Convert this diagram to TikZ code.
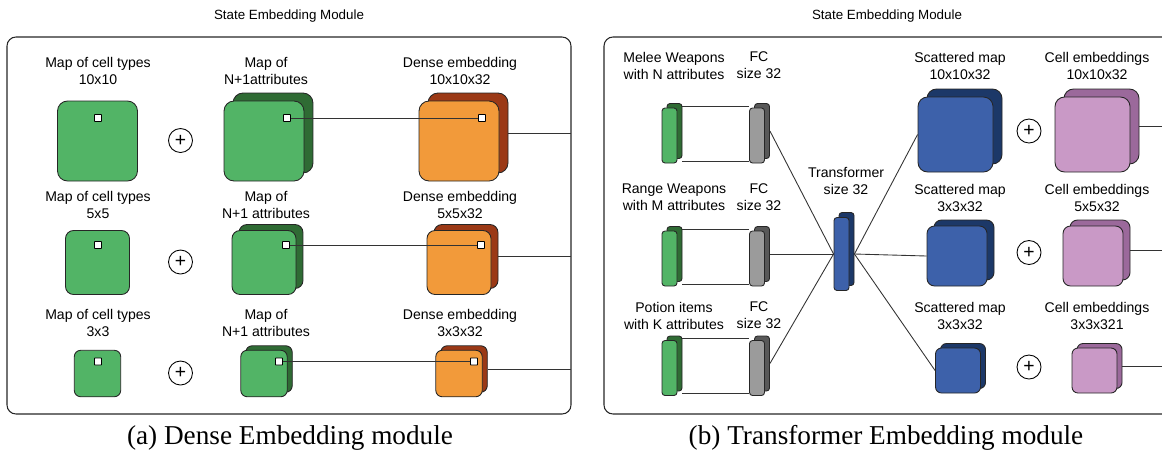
\documentclass[tikz,border=0pt]{standalone}
\usepackage{fontspec}
\setmainfont{Liberation Serif}
\setsansfont{Liberation Sans}
\usetikzlibrary{positioning}
\definecolor{MapGreen}{RGB}{82,180,102}
\definecolor{MapGreenDark}{RGB}{47,107,52}
\definecolor{EmbOrange}{RGB}{242,154,58}
\definecolor{EmbRust}{RGB}{155,57,22}
\definecolor{ScatBlue}{RGB}{61,97,170}
\definecolor{ScatNavy}{RGB}{28,56,104}
\definecolor{CellPink}{RGB}{201,153,198}
\definecolor{CellPlum}{RGB}{155,105,155}
\definecolor{FCGray}{RGB}{155,155,155}
\definecolor{FCDark}{RGB}{88,88,88}

\begin{document}
\begin{tikzpicture}[x=0.02cm, y=-0.02cm,
    lbl/.style={font=\sffamily\fontsize{8}{9.7}\selectfont, align=center},
    ttl/.style={font=\sffamily\fontsize{7.6}{9}\selectfont},
    captxt/.style={font=\fontsize{15.5}{18}\selectfont},
    panel/.style={draw=black!85, line width=0.6pt, rounded corners=0.18cm},
    cell/.style={draw=black!85, line width=0.5pt, inner sep=0pt},
    bar/.style={cell, minimum width=0.3cm, minimum height=1.1cm, rounded corners=0.06cm},
    probe/.style={rectangle, draw=black, fill=white, line width=0.45pt, minimum size=0.14cm,
                  inner sep=0pt, rounded corners=0.01cm},
    addop/.style={circle, draw=black, line width=0.5pt, minimum size=0.48cm,
                  inner sep=0pt, font=\sffamily\fontsize{11}{11}\selectfont},
    link/.style={black!80, line width=0.5pt}
  ]
  \useasboundingbox (0,0) rectangle (1162,454);
  \clip (0,0) rectangle (1162,454);

  % (a) Dense embedding module
  \node[ttl] (titleA) at (289,16) {State Embedding Module};
  \draw[panel] (7,37) rectangle (571,414);
  \coordinate (edgeA) at (571,0);

  \node[lbl] (ctA1) at (98,70.5) {Map of cell types\\10x10};
  \node[lbl] (atA1) at (266,70.5) {Map of\\N+1attributes};
  \node[lbl] (deA1) at (460,70.5) {Dense embedding\\10x10x32};
  \node[lbl] (ctA2) at (98,205) {Map of cell types\\5x5};
  \node[lbl] (atA2) at (266,205) {Map of\\N+1 attributes};
  \node[lbl] (deA2) at (460,205) {Dense embedding\\5x5x32};
  \node[lbl] (ctA3) at (98,322.5) {Map of cell types\\3x3};
  \node[lbl] (atA3) at (266,322.5) {Map of\\N+1 attributes};
  \node[lbl] (deA3) at (460,322.5) {Dense embedding\\3x3x32};

  \foreach \r/\yc/\sz/\dx/\dy/\rc/\mx/\my in {1/141/1.6/9/8/0.2/23/23,
      2/262.5/1.28/7/6/0.16/22/17.5, 3/373.5/0.93/5/4.5/0.13/15/12}{
    % map of cell types
    \node[cell, fill=MapGreen, minimum size=\sz cm, rounded corners=\rc cm] (ct\r) at (97.5,\yc) {};
    \node[addop] (addA\r) at (180.5,\yc-0.5) {+};
    % map of attributes
    \node[cell, fill=MapGreenDark, minimum size=\sz cm, rounded corners=\rc cm] (atb\r) at (264+\dx,\yc-\dy) {};
    \node[cell, fill=MapGreen, minimum size=\sz cm, rounded corners=\rc cm] (atf\r) at (264,\yc) {};
    % dense embedding
    \node[cell, fill=EmbRust, minimum size=\sz cm, rounded corners=\rc cm] (deb\r) at (459+\dx,\yc-\dy) {};
    \node[cell, fill=EmbOrange, minimum size=\sz cm, rounded corners=\rc cm] (def\r) at (459,\yc) {};
    % probes
    \node[probe] (pc\r) at (98,\yc-\my) {};
    \node[probe] (pa\r) at (264+\mx,\yc-\my) {};
    \node[probe] (pd\r) at (459+\mx,\yc-\my) {};
    \draw[link] (pa\r) -- (pd\r);
    \draw[link] (deb\r.east) -- (deb\r.east -| edgeA);
  }

  \node[captxt] (captA) at (290,438) {(a) Dense Embedding module};

  % (b) Transformer embedding module
  \node[ttl] (titleB) at (887,16) {State Embedding Module};
  \draw[panel] (604,37) rectangle (1180,414);
  \coordinate (edgeB) at (1180,0);

  \node[lbl] (inB1) at (674,65.5) {Melee Weapons\\with N attributes};
  \node[lbl] (fcB1) at (759,65.5) {FC\\size 32};
  \node[lbl] (inB2) at (674,197.5) {Range Weapons\\with M attributes};
  \node[lbl] (fcB2) at (759,197.5) {FC\\size 32};
  \node[lbl] (inB3) at (674,315.5) {Potion items\\with K attributes};
  \node[lbl] (fcB3) at (759,315.5) {FC\\size 32};
  \node[lbl] (trB) at (846,180.5) {Transformer\\size 32};
  \node[lbl] (smB1) at (960,65.5) {Scattered map\\10x10x32};
  \node[lbl] (ceB1) at (1097,65.5) {Cell embeddings\\10x10x32};
  \node[lbl] (smB2) at (960,197.5) {Scattered map\\3x3x32};
  \node[lbl] (ceB2) at (1097,197.5) {Cell embeddings\\5x5x32};
  \node[lbl] (smB3) at (960,315.5) {Scattered map\\3x3x32};
  \node[lbl] (ceB3) at (1097,315.5) {Cell embeddings\\3x3x321};

  % transformer
  \node[bar, fill=ScatNavy, minimum height=1.46cm] (tb) at (846.5,249) {};
  \node[bar, fill=ScatBlue, minimum height=1.46cm] (tf) at (841.5,254) {};
  \coordinate (tin) at (tf.west);
  \coordinate (tout) at (tf.west -| tb.east);

  % item inputs and FC layers
  \foreach \r/\yc in {1/135.5, 2/258.5, 3/368}{
    \node[bar, fill=MapGreenDark] (gb\r) at (674.5,\yc-4.5) {};
    \node[bar, fill=MapGreen] (gf\r) at (669.5,\yc) {};
    \node[bar, fill=FCDark] (fb\r) at (762,\yc-4.5) {};
    \node[bar, fill=FCGray] (ff\r) at (757,\yc) {};
    \coordinate (tl\r) at ([yshift=-0.06cm]gb\r.north east);
    \coordinate (bl\r) at ([yshift=-0.04cm]gb\r.south east);
    \draw[link] (tl\r) -- (tl\r -| ff\r.west);
    \draw[link] (bl\r) -- (bl\r -| ff\r.west);
    \draw[link] (fb\r.east) -- (tin);
  }

  % scattered maps and cell embeddings
  \foreach \r/\yc/\sz/\dx/\dy/\rc/\sx/\cx in {1/134.5/1.5/9/8/0.19/955.5/1092.5,
      2/256/1.2/7/6/0.15/957/1093, 3/370.5/0.9/5/4.5/0.12/958/1094.5}{
    \node[cell, fill=ScatNavy, minimum size=\sz cm, rounded corners=\rc cm] (sb\r) at (\sx+\dx,\yc-\dy) {};
    \node[cell, fill=ScatBlue, minimum size=\sz cm, rounded corners=\rc cm] (sf\r) at (\sx,\yc) {};
    \node[addop] (addB\r) at (1029,\yc-3.5) {+};
    \node[cell, fill=CellPlum, minimum size=\sz cm, rounded corners=\rc cm] (eb\r) at (\cx+\dx,\yc-\dy) {};
    \node[cell, fill=CellPink, minimum size=\sz cm, rounded corners=\rc cm] (ef\r) at (\cx,\yc) {};
    \draw[link] (tout) -- (sf\r.west);
    \draw[link] (eb\r.east) -- (eb\r.east -| edgeB);
  }

  \node[captxt] (captB) at (886,438) {(b) Transformer Embedding module};
\end{tikzpicture}
\end{document}
